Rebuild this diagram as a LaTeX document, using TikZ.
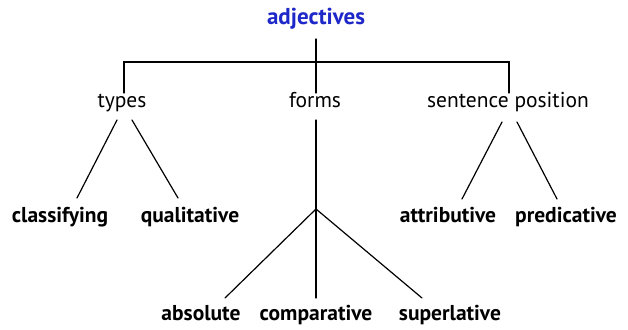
\documentclass[tikz,border=0pt]{standalone}
\usepackage{fontspec}
\setmainfont{PT Sans}
\definecolor{adjblue}{RGB}{30,40,200}
\begin{document}
\begin{tikzpicture}[x=1pt,y=-1pt,
  lvl/.style={anchor=base,inner sep=0pt,font=\fontsize{21.5}{24}\selectfont},
  leaf/.style={anchor=base,inner sep=0pt,font=\fontsize{21.5}{24}\selectfont\bfseries},
  root/.style={anchor=base,inner sep=0pt,font=\fontsize{23}{26}\selectfont\bfseries,text=adjblue},
  edge/.style={line width=1.2pt,line cap=round}]
\useasboundingbox[fill=white] (0,0) rectangle (628,329);
\node[root] (adj) at (316,25) {adjectives};
\node[lvl] (types) at (122,107) {types};
\node[lvl] (forms) at (315,107) {forms};
\node[lvl] (sentpos) at (508,107) {sentence position};
\node[leaf] (class) at (60,222) {classifying};
\node[leaf] (qual) at (190,222) {qualitative};
\node[leaf] (attr) at (448,222) {attributive};
\node[leaf] (pred) at (566,222) {predicative};
\node[leaf] (abs) at (201,320) {absolute};
\node[leaf] (comp) at (316,320) {comparative};
\node[leaf] (sup) at (450,320) {superlative};
\coordinate (bar) at (316,62);
\coordinate (apex) at (316,209);
% top
\draw[edge] ([yshift=-14pt]adj.base) -- ([xshift=1pt,yshift=14pt]forms.base);
\draw[edge] ([xshift=2pt,yshift=14pt]types.base) |- (bar) -| ([xshift=1pt,yshift=14pt]sentpos.base);
% types
\draw[edge] ([xshift=-5pt,yshift=-13pt]types.base) -- ([xshift=17pt,yshift=24pt]class.base);
\draw[edge] ([xshift=10pt,yshift=-13pt]types.base) -- ([xshift=-12pt,yshift=24pt]qual.base);
% forms
\draw[edge] ([xshift=1pt,yshift=-13pt]forms.base) -- (apex);
\draw[edge] (apex) -- ([xshift=24pt,yshift=22pt]abs.base);
\draw[edge] (apex) -- ([yshift=22pt]comp.base);
\draw[edge] (apex) -- ([xshift=-28pt,yshift=22pt]sup.base);
% sentence position
\draw[edge] ([xshift=-6pt,yshift=-15pt]sentpos.base) -- ([xshift=14pt,yshift=23pt]attr.base);
\draw[edge] ([xshift=9pt,yshift=-15pt]sentpos.base) -- ([xshift=-9pt,yshift=23pt]pred.base);
\end{tikzpicture}
\end{document}
